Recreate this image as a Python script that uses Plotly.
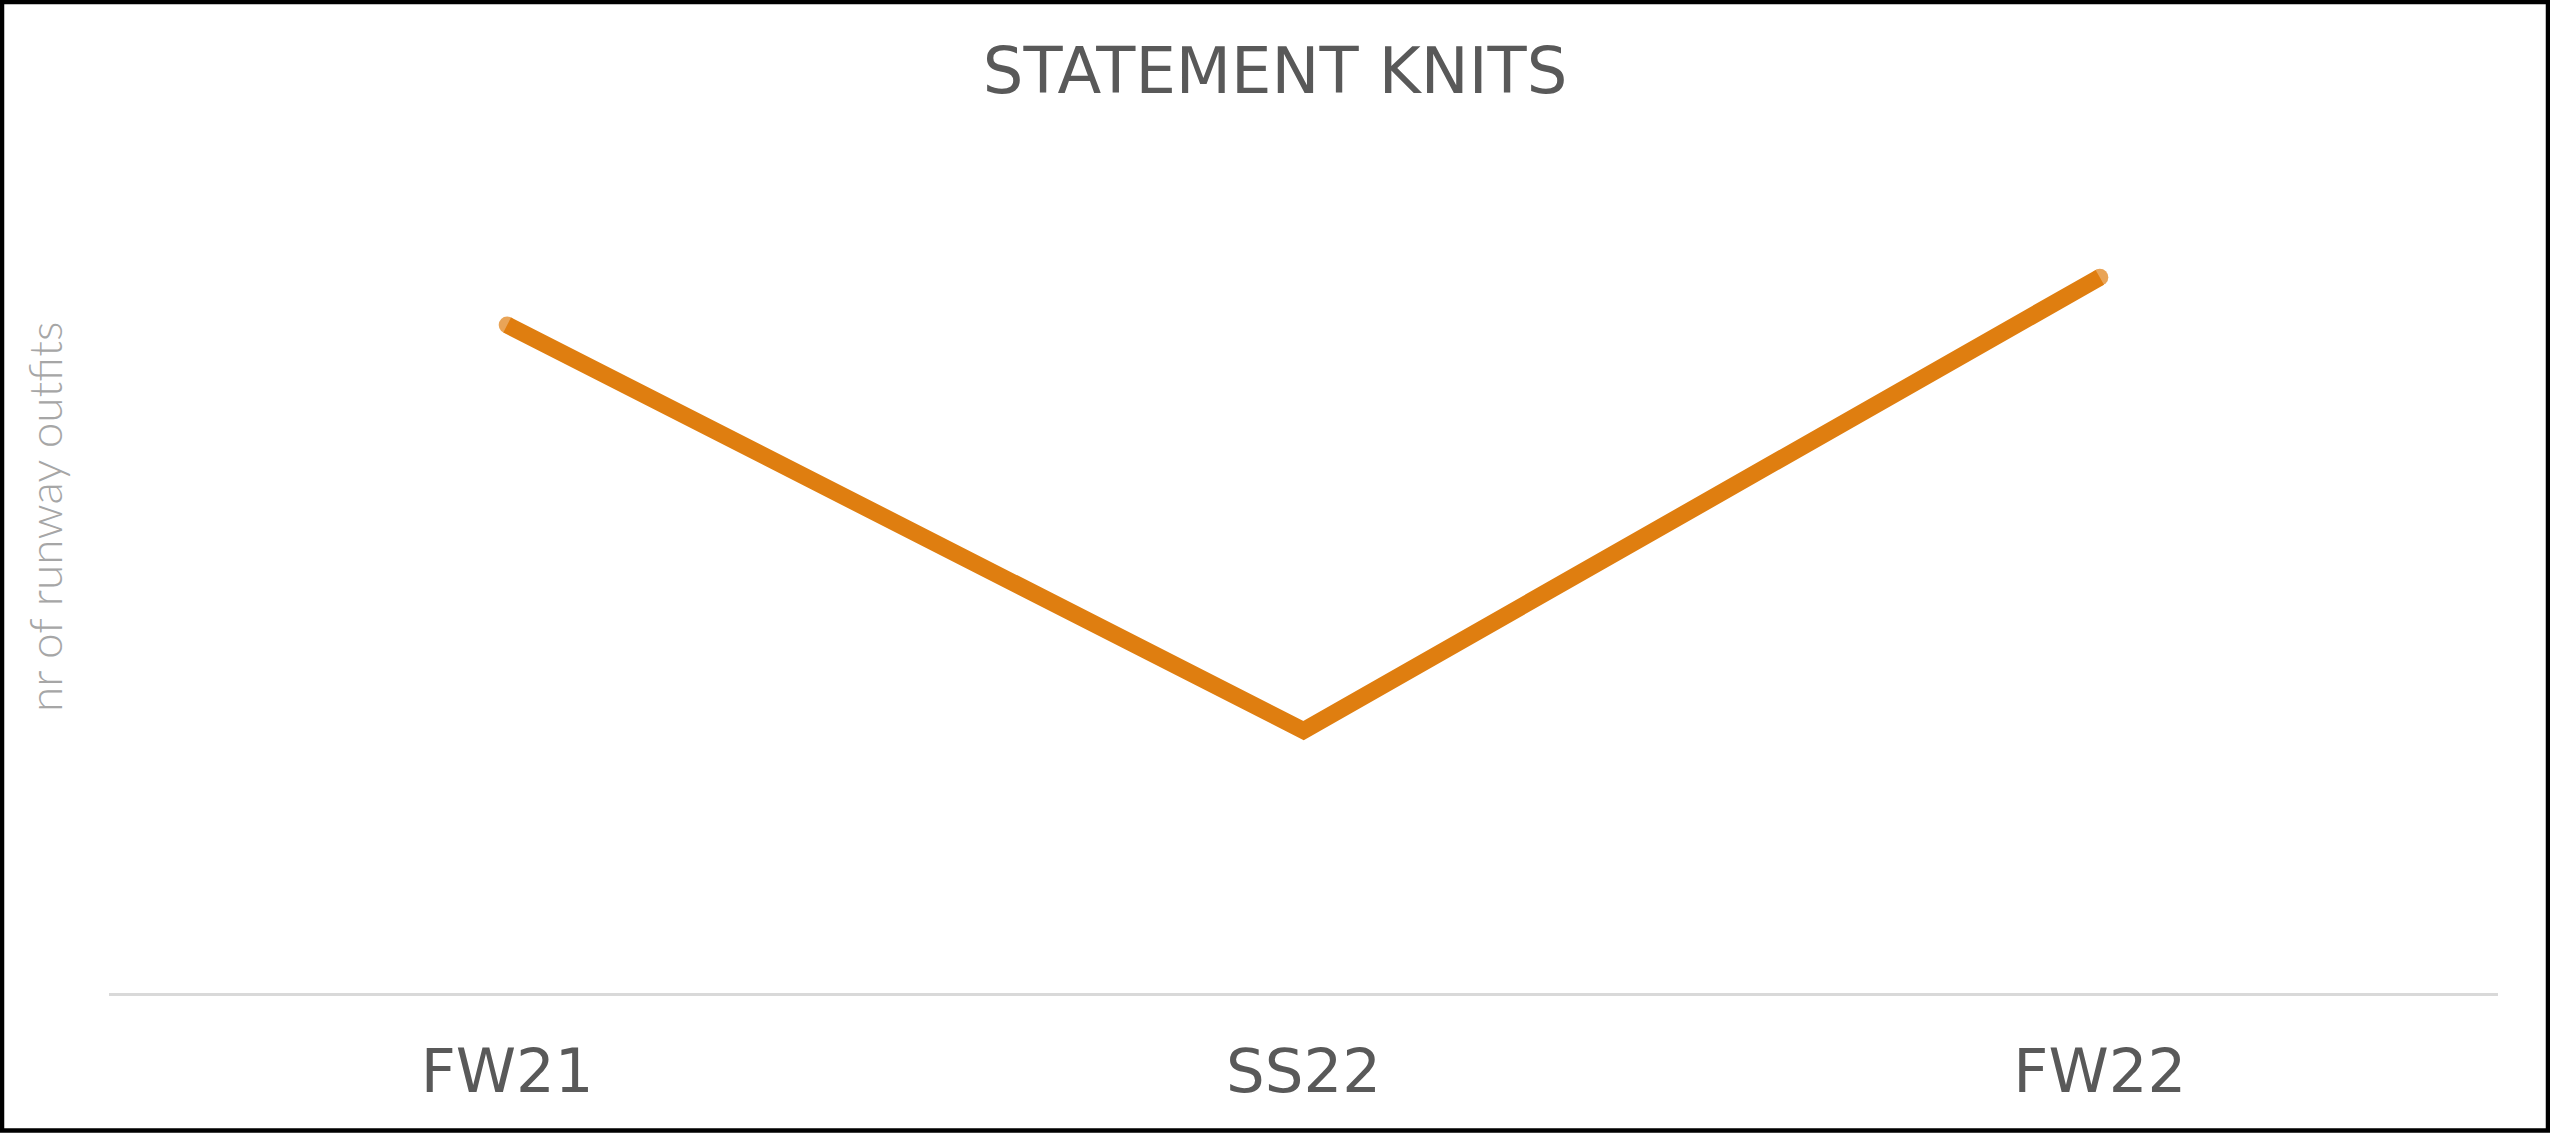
import plotly.graph_objects as go

# ---- data ----
seasons = ["FW21", "SS22", "FW22"]
outfits = [28, 11, 30]
chart_title = "STATEMENT KNITS"
y_title = "nr of runway outfits"

W, H = 2550, 1133
ml, mr, mt, mb = 109, 52, 158, 140
pw = W - ml - mr
ph = H - mt - mb

orange = "#df7e10"
lw = 17

fig = go.Figure()
fig.add_trace(go.Scatter(
    x=seasons, y=outfits, mode="lines+markers",
    line=dict(color=orange, width=lw),
    marker=dict(color=orange, size=[lw, 0, lw], line=dict(width=0)),
    hoverinfo="x+y", showlegend=False,
))

fig.update_layout(
    width=W, height=H,
    margin=dict(l=ml, r=mr, t=mt, b=mb, autoexpand=False),
    paper_bgcolor="white", plot_bgcolor="white",
    title=dict(text=chart_title, x=0.5, xref="container", xanchor="center",
               y=1 - 71 / H, yref="container", yanchor="middle",
               font=dict(family="DejaVu Sans", size=64, color="#595959")),
    xaxis=dict(type="category", range=[-0.5, 2.5], showgrid=False, zeroline=False,
               showline=True, linecolor="#d9d9d9", linewidth=3, ticks="",
               ticklabelstandoff=23,
               tickfont=dict(family="DejaVu Sans", size=61, color="#595959")),
    yaxis=dict(range=[0, 35], showgrid=False, zeroline=False, showline=False,
               showticklabels=False, ticks=""),
    annotations=[dict(text=y_title, textangle=-90, xref="paper", yref="paper",
                      x=-65 / pw, y=(993 - 517) / ph, xanchor="center", yanchor="middle",
                      showarrow=False,
                      font=dict(family="Lato", size=46, color="#a6a6a6", weight=300))],
    shapes=[dict(type="rect", xref="paper", yref="paper",
                 x0=(2 - ml) / pw, x1=(W - 2 - ml) / pw,
                 y0=-(mb - 2.5) / ph, y1=1 + (mt - 2) / ph,
                 line=dict(color="black", width=4.5), fillcolor="rgba(0,0,0,0)",
                 layer="above")],
)

fig.write_html("out.html", config={"displayModeBar": False},
               post_script="document.body.style.margin='0';document.body.style.overflow='hidden';")
